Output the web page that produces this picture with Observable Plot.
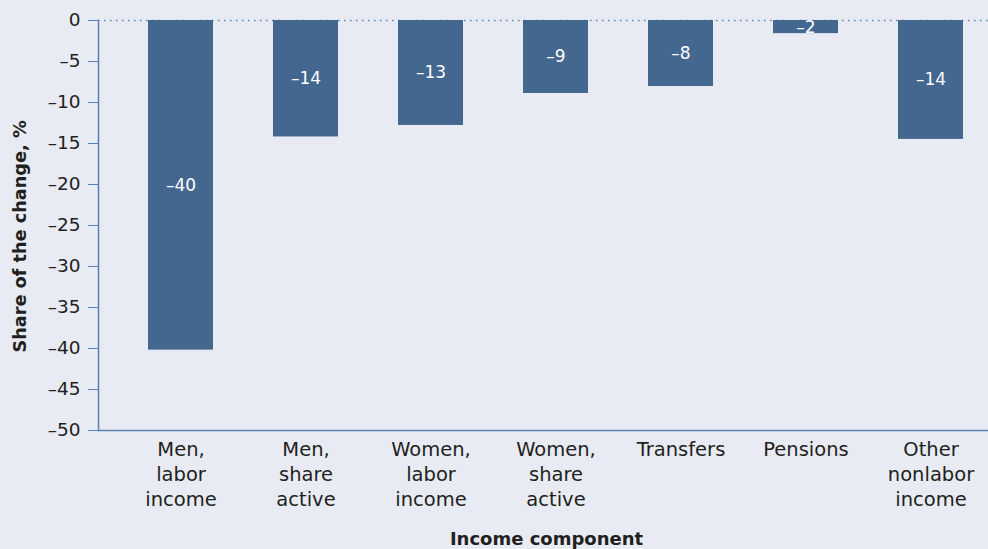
<!DOCTYPE html>
<html>
<head>
<meta charset="utf-8">
<script src="https://cdn.jsdelivr.net/npm/d3@7"></script>
<script src="https://cdn.jsdelivr.net/npm/@observablehq/plot@0.6"></script>
<style>
  html, body { margin: 0; padding: 0; background: #e8ebf3; }
  svg { display: block; }
</style>
</head>
<body>
<div id="chart"></div>
<script>
const categories = [
  "Men,\nlabor\nincome",
  "Men,\nshare\nactive",
  "Women,\nlabor\nincome",
  "Women,\nshare\nactive",
  "Transfers",
  "Pensions",
  "Other\nnonlabor\nincome"
];
const values = [-40.2, -14.2, -12.8, -8.9, -8.05, -1.6, -14.5];
const valueLabels = ["–40", "–14", "–13", "–9", "–8", "–2", "–14"];
const yTicks = [0, -5, -10, -15, -20, -25, -30, -35, -40, -45, -50];

const data = categories.map((c, i) => ({cat: c, value: values[i], label: valueLabels[i]}));

const axisBlue = "#5b7fb1";
const barColor = "#44678f";
const textColor = "#231f20";
const fmt = d => d === 0 ? "0" : "–" + Math.abs(d);

const chart = Plot.plot({
  width: 988,
  height: 549,
  marginTop: 20,
  marginBottom: 119,
  marginLeft: 98,
  marginRight: 0,
  style: {background: "#e8ebf3", fontFamily: "'DejaVu Sans', 'Liberation Sans', Arial, sans-serif"},
  x: {domain: categories, range: [118, 993], paddingInner: 0.48, paddingOuter: 0.24, align: 0.5},
  y: {domain: [-50, 0]},
  marks: [
    Plot.ruleY([0], {stroke: axisBlue, strokeWidth: 1.5, strokeDasharray: "1.5,4.5"}),
    Plot.barY(data, {x: "cat", y: "value", fill: barColor}),
    Plot.text(data, {x: "cat", y: d => d.value / 2, text: "label", fill: "white", fontSize: 17}),
    Plot.frame({anchor: "left", stroke: axisBlue, strokeWidth: 1.5}),
    Plot.ruleY([-50], {stroke: axisBlue, strokeWidth: 1.5}),
    Plot.axisY({ticks: yTicks, tickFormat: fmt, tickSize: 10, tickPadding: 8, stroke: axisBlue, fill: textColor, fontSize: 18.5, label: null}),
    Plot.axisX({tickSize: 0, tickPadding: 8, fill: textColor, fontSize: 19.5, lineHeight: 1.28, label: null}),
    Plot.text(["Share of the change, %"], {frameAnchor: "left", textAnchor: "middle", dx: -78, dy: 11, rotate: -90, fontWeight: "bold", fontSize: 17.7, fill: textColor, lineAnchor: "middle"}),
    Plot.text(["Income component"], {frameAnchor: "bottom", textAnchor: "middle", dy: 109, dx: 3, fontWeight: "bold", fontSize: 18, fill: textColor, lineAnchor: "middle"})
  ]
});
document.getElementById("chart").appendChild(chart);
</script>
</body>
</html>
